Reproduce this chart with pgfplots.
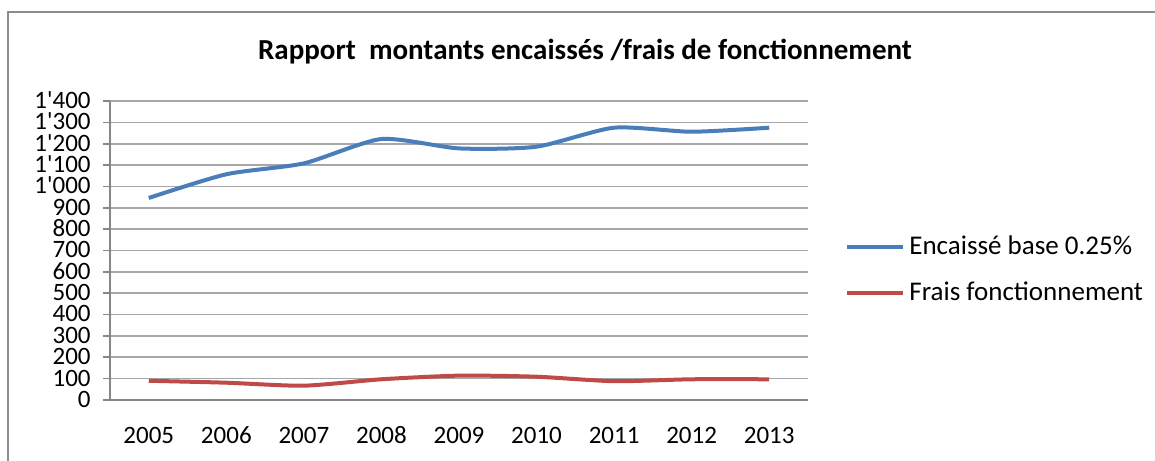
\documentclass[border=0pt]{standalone}
\usepackage{fontspec}
\setmainfont{Carlito}[Ligatures=TeXOff]
\usepackage{pgfplots}
\pgfplotsset{compat=1.18}

\definecolor{serBlue}{HTML}{4A7EBB}
\definecolor{serRed}{HTML}{BE4B48}
\definecolor{gridGray}{HTML}{A6A6A6}
\definecolor{axGray}{HTML}{868686}
\definecolor{frameGray}{HTML}{8C8C8C}

\begin{document}
\begin{tikzpicture}
  % 1 px of the reference = 0.5pt
  \useasboundingbox (0,0) rectangle (577.5pt,230pt);
  \draw[frameGray, line width=1pt] (4pt,-2pt) -- (4pt,224pt) -- (580pt,224pt);

  \node[font=\bfseries\fontsize{14.5}{16}\selectfont] at (292.5pt,204pt)
    {Rapport\ \ montants encaissés /frais de fonctionnement};

  \begin{axis}[
    at={(55pt,30pt)},
    anchor=origin,
    scale only axis,
    width=349pt,
    height=149.5pt,
    xmin=0.5, xmax=9.5,
    ymin=0, ymax=1400,
    axis x line=bottom,
    axis y line=left,
    axis line style={axGray, line width=0.8pt, -},
    xtick={1,...,9},
    xticklabels={2005,2006,2007,2008,2009,2010,2011,2012,2013},
    extra x ticks={0.5,1.5,...,9.5},
    extra x tick labels={},
    extra x tick style={major tick length=6pt, tick style={axGray, line width=0.8pt},
      tick align=outside},
    x tick style={draw=none},
    ytick={0,100,...,1400},
    yticklabels={0,100,200,300,400,500,600,700,800,900,1'000,1'100,1'200,1'300,1'400},
    y tick style={axGray, line width=0.8pt},
    tick align=outside,
    major tick length=3.5pt,
    ymajorgrids,
    major grid style={gridGray, line width=0.8pt},
    tick label style={font=\fontsize{12.5}{12.5}\selectfont},
    xticklabel style={yshift=-7pt, text height=1.6ex, text depth=0pt},
    yticklabel style={xshift=-6pt, inner ysep=0pt, inner xsep=0pt,
      text height=1.55ex, text depth=0pt},
    legend cell align=left,
    legend style={
      at={(1.053,0.435)}, anchor=west,
      draw=none, fill=none,
      font=\fontsize{13.5}{15}\selectfont,
      row sep=8pt,
      inner sep=0pt,
    },
    legend image code/.code={
      \draw[line width=2pt,#1] (0pt,0pt) -- (28pt,0pt);
    },
  ]
    \addplot[serBlue, line width=2pt, smooth, tension=0.4] coordinates {
      (1,946) (2,1057) (3,1108) (4,1222) (5,1178)
      (6,1186) (7,1275) (8,1256) (9,1275)
    };
    \addlegendentry{Encaissé base 0.25\%}
    \addplot[serRed, line width=2pt, smooth, tension=0.4] coordinates {
      (1,90) (2,81) (3,67) (4,97) (5,114)
      (6,109) (7,88) (8,97) (9,97)
    };
    \addlegendentry{Frais fonctionnement}
  \end{axis}
\end{tikzpicture}
\end{document}
